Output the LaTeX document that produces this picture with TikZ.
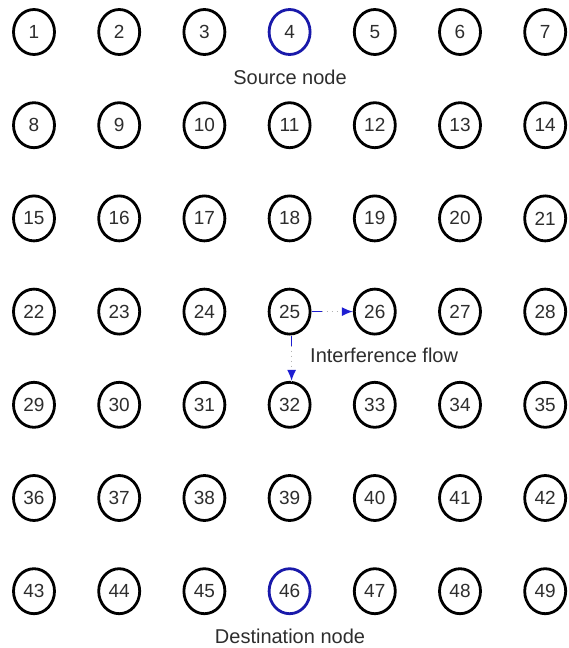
\documentclass[tikz,border=0pt]{standalone}
\usepackage{fontspec}
\setmainfont{Liberation Sans}
\usetikzlibrary{arrows.meta,shapes.geometric}
\definecolor{txt}{RGB}{45,45,45}
\definecolor{hl}{RGB}{25,25,170}
\definecolor{flowc}{RGB}{30,30,210}
\begin{document}
\begin{tikzpicture}[x=1pt,y=-1pt,
  nd/.style={ellipse,draw=black,line width=2.8pt,inner sep=0pt,
    minimum width=41pt,minimum height=45pt,text=txt,
    font=\fontsize{19}{22}\selectfont},
  hlnd/.style={nd,draw=hl},
  lbl/.style={text=txt,font=\fontsize{20}{24}\selectfont,inner sep=0pt},
  flowdots/.style={draw=gray!60,line width=1.5pt,dash pattern=on 1.5pt off 3.5pt},
  flow/.style={draw=flowc,line width=1.5pt,dash pattern=on 10pt off 60pt,
    -{Latex[length=11pt,width=9pt]}}
]
\useasboundingbox (0,0) rectangle (569,648);
\foreach \r in {0,...,6}{
  \foreach \c in {0,...,6}{
    \pgfmathtruncatemacro{\n}{\r*7+\c+1}
    \pgfmathsetmacro{\xx}{34+85.2*\c}
    \pgfmathsetmacro{\yy}{32+93.2*\r}
    \ifnum\n=4
      \node[hlnd] (n\n) at (\xx,\yy) {\n};
    \else\ifnum\n=46
      \node[hlnd] (n\n) at (\xx,\yy) {\n};
    \else
      \node[nd] (n\n) at (\xx,\yy) {\n};
    \fi\fi
  }
}
\node[lbl] (src) at (290,77) {Source node};
\node[lbl] (dst) at (290,636) {Destination node};
\node[lbl,anchor=west] (intf) at (310,355) {Interference flow};
\draw[flowdots] (n25.east) -- (n26.west);
\draw[flow] (n25.east) -- (n26.west);
\draw[flowdots] ([xshift=2pt]n25.south) -- ([xshift=2pt]n32.north);
\draw[flow] ([xshift=2pt]n25.south) -- ([xshift=2pt]n32.north);
\end{tikzpicture}
\end{document}
